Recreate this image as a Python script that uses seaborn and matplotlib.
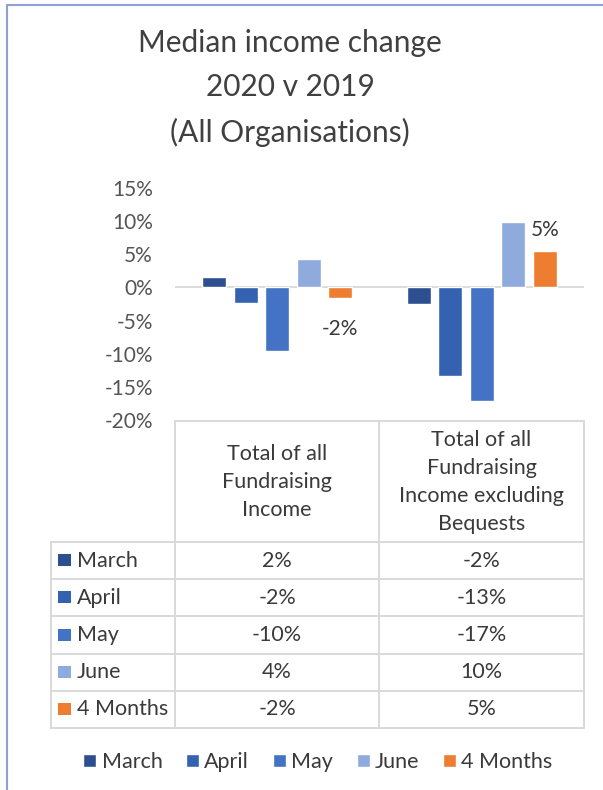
import matplotlib
matplotlib.use("Agg")
import matplotlib.pyplot as plt
from matplotlib.lines import Line2D
from matplotlib.patches import Rectangle
import pandas as pd
import seaborn as sns

TITLE = "Median income change\n2020 v 2019\n(All Organisations)"
categories = ["Total of all\nFundraising\nIncome",
              "Total of all\nFundraising\nIncome excluding\nBequests"]
periods = ["March", "April", "May", "June", "4 Months"]
# median change in %, one list per period: [all income, excl. bequests]
march = [1.6, -2.5]
april = [-2.3, -13.4]
may = [-9.6, -17.1]
june = [4.35, 9.9]
four_months = [-1.6, 5.45]
colors = ["#2E4F8F", "#3462B0", "#4472C4", "#8FAADC", "#ED7D31"]
y_ticks = [-20, -15, -10, -5, 0, 5, 10, 15]

TEXT = "#3A3A3A"
GRID = "#D9D9D9"
W, H = 603, 790

sns.set_style("white")
plt.rcParams["font.family"] = ["Lato", "DejaVu Sans"]

rows = []
for period, vals in zip(periods, [march, april, may, june, four_months]):
    for cat, v in zip(categories, vals):
        rows.append({"category": cat, "period": period, "value": v})
df = pd.DataFrame(rows)

fig = plt.figure(figsize=(W / 100, H / 100), dpi=100)

def fx(px):
    return px / W

def fy(py):
    return 1 - py / H

# chart area, aligned with the table columns below
ax = fig.add_axes([fx(175), fy(420), fx(584) - fx(175), fy(188) - fy(420)])
sns.barplot(data=df, x="category", y="value", hue="period", hue_order=periods,
            order=categories, palette=colors, width=0.77, gap=0.24,
            saturation=1, ax=ax, errorbar=None)

handles, labels = ax.get_legend_handles_labels()
if ax.get_legend() is not None:
    ax.get_legend().remove()

ax.set_ylim(-20, 15)
ax.set_xlim(-0.5, 1.5)
ax.set_yticks(y_ticks)
ax.set_yticklabels([f"{t}%" for t in y_ticks], fontsize=15, color="#555555")
ax.tick_params(axis="y", length=0, pad=16)
ax.set_xticks([])
ax.set_xlabel("")
ax.set_ylabel("")
for s in ax.spines.values():
    s.set_visible(False)
ax.axhline(0, color=GRID, lw=1.3, zorder=0)

# data labels on the 4 Months bars only
for bar, v in zip(ax.containers[-1], four_months):
    x = bar.get_x() + bar.get_width() / 2
    if v >= 0:
        ax.annotate(f"{round(v)}%", (x, v), xytext=(0, 8), textcoords="offset points",
                    ha="center", va="bottom", fontsize=15, color=TEXT)
    else:
        ax.annotate(f"{round(v)}%", (x, v), xytext=(0, -15), textcoords="offset points",
                    ha="center", va="top", fontsize=15, color=TEXT)

fig.text(fx(290), fy(88), TITLE, ha="center", va="center", fontsize=21.5,
         color="#404040", linespacing=1.7)

# data table under the chart
tab = fig.add_axes([0, 0, 1, 1], zorder=-1)
tab.set_xlim(0, W)
tab.set_ylim(H, 0)
tab.axis("off")

left, c1, c2, right = 51, 175, 379, 584
head_top, head_bot = 421, 542
row_h = (728 - head_bot) / len(periods)
bottom = head_bot + row_h * len(periods)

lkw = dict(color=GRID, lw=1.4)
tab.plot([c1, right], [head_top, head_top], **lkw)
for i in range(len(periods) + 1):
    y = head_bot + i * row_h
    tab.plot([left, right], [y, y], **lkw)
tab.plot([left, left], [head_bot, bottom], **lkw)
tab.plot([c1, c1], [head_top, bottom], **lkw)
tab.plot([c2, c2], [head_top, bottom], **lkw)
tab.plot([right, right], [head_top, bottom], **lkw)

col_centers = [(c1 + c2) / 2, (c2 + right) / 2]
for cx, cat in zip(col_centers, categories):
    tab.text(cx, (head_top + head_bot) / 2, cat, ha="center", va="center",
             fontsize=15.5, color=TEXT, linespacing=1.5)

series = [march, april, may, june, four_months]
for i, (period, col, vals) in enumerate(zip(periods, colors, series)):
    yc = head_bot + (i + 0.5) * row_h
    tab.add_patch(Rectangle((58, yc - 6.5), 13, 12, color=col, lw=0))
    tab.text(77, yc, period, ha="left", va="center", fontsize=15.5, color=TEXT)
    for cx, v in zip(col_centers, vals):
        tab.text(cx, yc, f"{round(v)}%", ha="center", va="center",
                 fontsize=15.5, color=TEXT)

# legend
fig.legend(handles, labels, loc="center", bbox_to_anchor=(fx(318), fy(762)),
           ncol=5, frameon=False, fontsize=15.5, labelcolor=TEXT,
           handlelength=0.6, handleheight=0.6, handletextpad=0.25,
           columnspacing=1.1)

# chart frame edges visible in the crop
fig.add_artist(Line2D([fx(7), fx(7)], [0, fy(5)], color="#8EA1D2", lw=1.5))
fig.add_artist(Line2D([fx(7), 1], [fy(5), fy(5)], color="#8EA1D2", lw=1.5))

fig.savefig("out.png", dpi=100)
